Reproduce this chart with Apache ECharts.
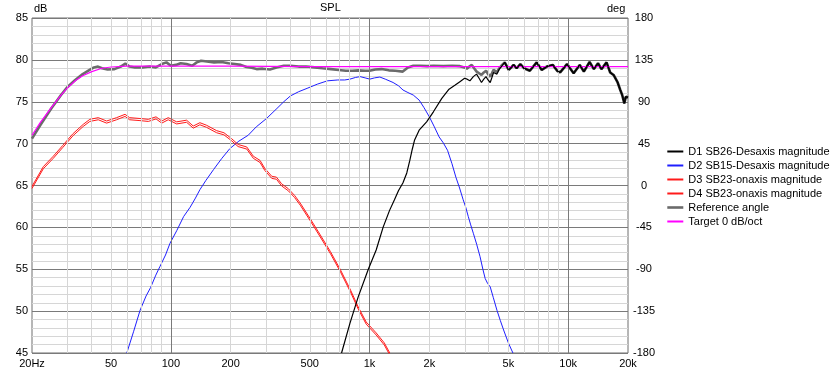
<!DOCTYPE html>
<html><head><meta charset="utf-8">
<script src="https://cdn.jsdelivr.net/npm/echarts@6/dist/echarts.min.js"></script>
<style>html,body{margin:0;padding:0;background:#fff}#c{width:836px;height:371px}</style>
</head><body><div id="c"></div>
<script>
// ---- Axis ticks ----
const xTickFreqs = [20, 50, 100, 200, 500, 1000, 2000, 5000, 10000, 20000];
const xTickLabels = ['20Hz', '50', '100', '200', '500', '1k', '2k', '5k', '10k', '20k'];
const minorGridFreqs = [30, 40, 50, 60, 70, 80, 90, 200, 300, 400, 500, 600, 700, 800, 900, 2000, 3000, 4000, 5000, 6000, 7000, 8000, 9000];
const majorGridFreqs = [100, 1000, 10000];

// ---- Series names ----
const seriesNames = ['D1 SB26-Desaxis magnitude', 'D2 SB15-Desaxis magnitude', 'D3 SB23-onaxis magnitude', 'D4 SB23-onaxis magnitude', 'Reference angle', 'Target 0 dB/oct'];

// ---- D1 (tweeter) ----
const d1Freq = [723, 796, 877, 986, 1080, 1170, 1260, 1335, 1400, 1472, 1540, 1595, 1640, 1684, 1777, 1938, 2097, 2311, 2513, 2700, 2850, 3010, 3100, 3200, 3330, 3456, 3560, 3660, 3760, 3857, 3950, 4050, 4130, 4210, 4300, 4380, 4500, 4650,
  4790, 5020, 5170, 5310, 5500, 5745, 6000, 6410, 6940, 7360, 7800, 8360, 8800, 9110, 9860, 10650, 11430, 11990, 12810, 13470, 14130, 14700, 15600, 16270, 16920, 17740, 18290, 18700, 19160, 19500, 19780, 20000];
const d1Db = [45.0, 48.5, 51.7, 55.0, 57.3, 60.0, 62.0, 63.3, 64.4, 65.3, 66.5, 68.0, 69.3, 70.4, 71.6, 72.6, 73.8, 75.4, 76.5, 77.0, 77.4, 77.8, 77.7, 77.5, 78.0, 78.3, 77.8, 77.3, 77.7, 78.0, 77.6, 77.3, 77.9, 78.5, 78.4, 78.3, 78.9, 79.3,
  79.7, 78.8, 79.1, 79.4, 79.0, 79.5, 79.0, 78.7, 79.7, 78.8, 79.2, 79.4, 78.7, 78.5, 79.5, 78.4, 79.4, 78.6, 79.75, 78.9, 79.6, 78.9, 79.7, 78.5, 78.2, 77.3, 76.4, 75.8, 74.8, 75.6, 75.8, 75.5];

// ---- D2 (mid) ----
const d2Freq = [60, 65, 70, 75, 79, 84, 88, 94, 99, 107, 116, 125, 133, 140, 150, 164, 180, 198, 220, 245, 269, 303, 342, 370, 400, 440, 485, 546, 614, 692, 750, 797, 850, 897, 950, 1003, 1060, 1127, 1200, 1314, 1400, 1474, 1560, 1660, 1777, 1880, 2000, 2120, 2240, 2350, 2470, 2600, 2720, 2840, 2960, 3050, 3140, 3230, 3330, 3460, 3600, 3720, 3820, 3930, 4050, 4200, 4380, 4550, 4730, 5000, 5270];
const d2Db = [45.0, 47.6, 50.1, 51.8, 52.8, 54.3, 55.3, 56.7, 58.1, 59.6, 61.3, 62.4, 63.5, 64.5, 65.6, 66.9, 68.2, 69.4, 70.3, 71.0, 72.0, 73.0, 74.2, 75.0, 75.7, 76.2, 76.6, 77.1, 77.5, 77.6, 77.6, 77.7, 77.9, 78.0, 77.85, 77.7, 77.85, 77.95, 77.7, 77.3, 76.9, 76.4, 76.1, 75.8, 75.2, 74.3, 73.2, 72.0, 70.8, 70.1, 69.2, 67.6, 66.0, 64.7, 63.3, 62.4, 61.3, 60.3, 59.3, 58.0, 56.5, 55.0, 53.9, 53.3, 52.9, 51.6, 50.1, 48.9, 47.75, 46.2, 45.0];

// ---- D3 / D4 (woofers) ----
const d3Freq = [20, 22.8, 25.6, 28.6, 32.2, 36.2, 39.1, 43.1, 47.5, 53.3, 58.8, 62, 69.9, 77, 84.2, 90, 97, 107, 120, 129.6, 140, 151, 170, 185, 202, 218, 241, 260, 281, 297, 322, 340, 361, 391, 420, 448, 501, 565, 636, 715, 803, 877, 962, 1080, 1187, 1265];
const d3Db = [64.9, 67.25, 68.5, 69.8, 71.2, 72.3, 72.9, 73.1, 72.7, 73.1, 73.5, 73.1, 73.0, 72.9, 73.2, 72.7, 73.1, 72.6, 72.8, 72.1, 72.5, 72.2, 71.55, 71.3, 70.6, 69.9, 69.6, 68.5, 68.0, 67.05, 66.1, 66.0, 65.2, 64.6, 63.8, 62.9, 61.1, 59.1, 57.1, 54.9, 52.5, 50.5, 48.7, 47.4, 46.2, 45.0];
const d4Freq = d3Freq;
const d4Db = [64.65, 67.0, 68.25, 69.55, 70.95, 72.05, 72.65, 72.85, 72.45, 72.85, 73.25, 72.85, 72.75, 72.65, 72.95, 72.45, 72.85, 72.35, 72.55, 71.85, 72.25, 71.95, 71.3, 71.05, 70.35, 69.65, 69.35, 68.25, 67.75, 66.8, 65.85, 65.75, 64.95, 64.35, 63.55, 62.65, 60.85, 58.85, 56.85, 54.65, 52.25, 50.25, 48.45, 47.15, 45.95, 44.75];

// ---- Reference angle (sum) ----
const refFreq = [20, 22, 25, 28, 30, 33, 36, 39, 41, 43, 45, 48, 52, 56, 59, 62, 66, 72, 78, 84, 90, 95, 100, 106, 112, 120, 128, 135, 142, 152, 165, 180, 195, 210, 225, 240, 255, 270, 290, 315, 340, 370, 400, 440, 480, 530, 580, 640, 700, 760, 820, 880, 950, 1000, 1070, 1150, 1250, 1350, 1470, 1560, 1660, 1800, 1950, 2100, 2350, 2600, 2850, 3000, 3090, 3180, 3270, 3360, 3460, 3560, 3660, 3760, 3860, 3950, 4050, 4130, 4210, 4300, 4380, 4500, 4650,
  4790, 5020, 5170, 5310, 5500, 5745, 6000, 6410, 6940, 7360, 7800, 8360, 8800, 9110, 9860, 10650, 11430, 11990, 12810, 13470, 14130, 14700, 15600, 16270, 16920, 17740, 18290, 18700, 19160, 19500, 19780, 20000];
const refDb = [70.6, 72.2, 74.2, 75.8, 76.7, 77.6, 78.3, 78.8, 79.1, 79.2, 79.0, 78.85, 78.9, 79.2, 79.55, 79.2, 79.1, 79.1, 79.2, 79.1, 79.5, 79.7, 79.3, 79.4, 79.6, 79.5, 79.3, 79.7, 79.9, 79.8, 79.7, 79.75, 79.6, 79.5, 79.4, 79.15, 79.05, 78.9, 78.95, 78.85, 79.1, 79.3, 79.3, 79.2, 79.2, 79.1, 79.0, 78.9, 78.8, 78.7, 78.7, 78.75, 78.7, 78.7, 78.85, 78.9, 78.75, 78.7, 78.6, 79.1, 79.3, 79.3, 79.25, 79.3, 79.25, 79.3, 79.25, 79.1, 78.95, 79.2, 79.4, 79.0, 78.6, 78.4, 78.2, 78.5, 78.7, 78.3, 78.0, 78.4, 78.8, 78.7, 78.55, 79.0, 79.4,
  79.7, 78.8, 79.1, 79.4, 79.0, 79.5, 79.0, 78.7, 79.7, 78.8, 79.2, 79.4, 78.7, 78.5, 79.5, 78.4, 79.4, 78.6, 79.75, 78.9, 79.6, 78.9, 79.7, 78.5, 78.2, 77.3, 76.4, 75.8, 74.8, 75.6, 75.8, 75.5];

// ---- Target ----
const targetFreq = [20, 22, 25, 28, 30, 33, 36, 40, 45, 50, 60, 80, 100, 200, 500, 1000, 2000, 5000, 10000, 20000];
const targetDb = [71.0, 72.5, 74.3, 75.8, 76.6, 77.5, 78.1, 78.6, 79.0, 79.15, 79.25, 79.25, 79.25, 79.25, 79.2, 79.2, 79.2, 79.2, 79.2, 79.2];

const L = Math.log10;
const pts = (f, d) => f.map((v, i) => [L(v), d[i]]);
const FONT = '"Liberation Sans", Arial, sans-serif';
const REF_GRAY = '#6b6b6b';

const lineSeries = (name, f, d, color, width, z) => ({
  name, type: 'line', data: pts(f, d), showSymbol: false, symbol: 'none',
  lineStyle: { color, width }, itemStyle: { color: typeof color === 'string' ? color : REF_GRAY }, z, clip: true, silent: true
});

// where the summed curve is hidden under the tweeter curve, it is drawn dark
const split = (L(4700) - L(20)) / (L(20000) - L(20));
const refColor = new echarts.graphic.LinearGradient(0, 0, 1, 0, [
  { offset: 0, color: REF_GRAY }, { offset: split - 0.002, color: REF_GRAY },
  { offset: split + 0.002, color: '#262626' }, { offset: 1, color: '#262626' }
]);

const gridLines = [
  ...minorGridFreqs.map(f => ({ xAxis: L(f), lineStyle: { color: '#d6d6d6', width: 1, type: 'solid' } })),
  ...majorGridFreqs.map(f => ({ xAxis: L(f), lineStyle: { color: '#7a7a7a', width: 1, type: 'solid' } }))
];

const chart = echarts.init(document.getElementById('c'), null, { renderer: 'canvas' });
chart.setOption({
  animation: false,
  backgroundColor: '#fff',
  textStyle: { fontFamily: FONT },
  grid: { left: 32, right: 208, top: 18, bottom: 18, show: true, borderColor: '#6e6e6e', borderWidth: 1, backgroundColor: 'transparent' },
  graphic: [
    { type: 'text', left: 320, top: 2, style: { text: 'SPL', font: '11px ' + FONT, fill: '#000' } },
    { type: 'text', left: 34, top: 3, style: { text: 'dB', font: '11px ' + FONT, fill: '#000' } },
    { type: 'text', left: 607, top: 3, style: { text: 'deg', font: '11px ' + FONT, fill: '#000' } }
  ],
  legend: {
    data: seriesNames.map((n, i) => i === 4 ? { name: n, lineStyle: { color: REF_GRAY, width: 2.6 } } : { name: n }),
    orient: 'vertical', left: 661, top: 141,
    itemWidth: 16, itemHeight: 10, itemGap: 3,
    itemStyle: { opacity: 0, borderWidth: 0 },
    textStyle: { fontSize: 11, color: '#000', fontFamily: FONT },
    selectedMode: false
  },
  xAxis: {
    type: 'value', min: L(20), max: L(20000),
    axisLine: { show: false }, axisTick: { show: false }, splitLine: { show: false },
    axisLabel: {
      customValues: xTickFreqs.map(L), color: '#000', fontSize: 11, margin: 5, fontFamily: FONT,
      formatter: v => { const i = xTickFreqs.findIndex(f => Math.abs(L(f) - v) < 1e-6); return i >= 0 ? xTickLabels[i] : ''; }
    }
  },
  yAxis: [
    {
      type: 'value', min: 45, max: 85, interval: 5, position: 'left',
      axisLine: { show: false }, axisTick: { show: false },
      axisLabel: { color: '#000', fontSize: 11, margin: 4, fontFamily: FONT },
      splitLine: { show: true, lineStyle: { color: '#7a7a7a', width: 1 } },
      minorTick: { show: false, splitNumber: 5 },
      minorSplitLine: { show: true, lineStyle: { color: '#d6d6d6', width: 1 } }
    },
    {
      type: 'value', min: -180, max: 180, interval: 45, position: 'right',
      axisLine: { show: false }, axisTick: { show: false }, splitLine: { show: false },
      axisLabel: { color: '#000', fontSize: 11, margin: 16, align: 'center', fontFamily: FONT }
    }
  ],
  series: [
    {
      type: 'line', data: [], silent: true, z: 1,
      markLine: { silent: true, symbol: ['none', 'none'], label: { show: false }, animation: false, data: gridLines }
    },
    lineSeries(seriesNames[0], d1Freq, d1Db, '#000000', 1.2, 6),
    lineSeries(seriesNames[1], d2Freq, d2Db, '#1f1fff', 1, 3),
    lineSeries(seriesNames[2], d3Freq, d3Db, '#ff1a1a', 1, 3),
    lineSeries(seriesNames[3], d4Freq, d4Db, '#ff1a1a', 1, 3),
    lineSeries(seriesNames[4], refFreq, refDb, refColor, 2.6, 4),
    lineSeries(seriesNames[5], targetFreq, targetDb, '#ff00ff', 1.2, 5)
  ]
});
</script></body></html>
